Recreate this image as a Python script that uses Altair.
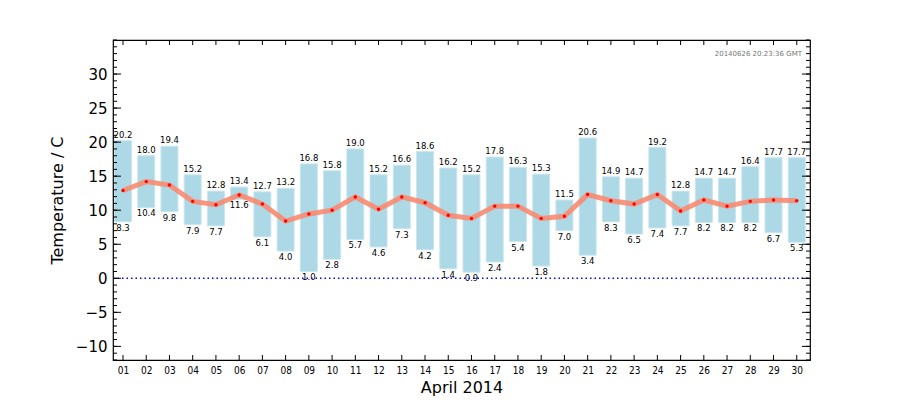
import altair as alt
import pandas as pd

days = list(range(1, 31))
highs = [20.2, 18.0, 19.4, 15.2, 12.8, 13.4, 12.7, 13.2, 16.8, 15.8,
         19.0, 15.2, 16.6, 18.6, 16.2, 15.2, 17.8, 16.3, 15.3, 11.5,
         20.6, 14.9, 14.7, 19.2, 12.8, 14.7, 14.7, 16.4, 17.7, 17.7]
lows = [8.3, 10.4, 9.8, 7.9, 7.7, 11.6, 6.1, 4.0, 1.0, 2.8,
        5.7, 4.6, 7.3, 4.2, 1.4, 0.9, 2.4, 5.4, 1.8, 7.0,
        3.4, 8.3, 6.5, 7.4, 7.7, 8.2, 8.2, 8.2, 6.7, 5.3]
means = [12.9, 14.2, 13.7, 11.3, 10.8, 12.25, 10.9, 8.4, 9.45, 10.0,
         11.95, 10.15, 11.95, 11.1, 9.25, 8.8, 10.6, 10.6, 8.8, 9.1,
         12.3, 11.4, 10.9, 12.3, 9.9, 11.5, 10.6, 11.3, 11.5, 11.4]
y_major = [-10, -5, 0, 5, 10, 15, 20, 25, 30]
y_minor = list(range(-12, 36))
stamp = "20140626 20:23:36 GMT"

W, H = 697, 320
df = pd.DataFrame({"day": days, "high": highs, "low": lows, "mean": means})

xs = alt.Scale(domain=[0.57, 30.57], nice=False, zero=False, padding=0)
ys = alt.Scale(domain=[-12, 35], nice=False, zero=False, padding=0)

xaxis = alt.Axis(values=days, labelExpr="datum.value < 10 ? '0' + datum.value : '' + datum.value",
                 title="April 2014", grid=False, domain=False, ticks=False, tickSize=0,
                 labelOverlap=False, labelFlush=False,
                 labelFont="DejaVu Sans Condensed, DejaVu Sans", labelFontSize=10, labelPadding=5,
                 titleFont="DejaVu Sans", titleFontSize=16, titleFontWeight="normal",
                 titlePadding=4, labelColor="black", titleColor="black")
yaxis = alt.Axis(values=y_major, title="Temperature / C", grid=False, domain=False,
                 ticks=False, tickSize=0, labelFont="DejaVu Sans", labelFontSize=15,
                 labelPadding=6, labelFlush=False, labelOverlap=False,
                 titleFont="DejaVu Sans", titleFontSize=16,
                 titleFontWeight="normal", titlePadding=10, labelColor="black",
                 titleColor="black")


def X(f):
    return alt.X(f, scale=xs, axis=xaxis, title="April 2014")


def Y(f):
    return alt.Y(f, scale=ys, axis=yaxis, title="Temperature / C")


base = alt.Chart(df)

bars = base.mark_bar(size=17, color="#add8e6", stroke="#c8e6ef", strokeWidth=1).encode(
    x=X("day:Q"), y=Y("low:Q"), y2="high:Q")
hi_txt = base.mark_text(baseline="bottom", dy=-1, fontSize=8.5, font="DejaVu Sans",
                        color="black").encode(
    x=X("day:Q"), y=Y("high:Q"), text=alt.Text("high:Q", format=".1f"))
lo_txt = base.mark_text(baseline="top", dy=2, fontSize=8.5, font="DejaVu Sans",
                        color="black").encode(
    x=X("day:Q"), y=Y("low:Q"), text=alt.Text("low:Q", format=".1f"))
line = base.mark_line(color="#fa8a70", strokeWidth=5, opacity=0.9).encode(
    x=X("day:Q"), y=Y("mean:Q"))
dots = base.mark_circle(color="red", size=12, opacity=1).encode(
    x=X("day:Q"), y=Y("mean:Q"))

zero = alt.Chart(pd.DataFrame({"v": [0]})).mark_rule(
    color="blue", strokeDash=[1.5, 3], strokeWidth=1.4).encode(
    y=Y("v:Q"), x=alt.value(0), x2=alt.value(W))

maj = pd.DataFrame({"v": y_major})
mnr = pd.DataFrame({"v": y_minor})
xt = pd.DataFrame({"v": days})
tick_layers = [
    alt.Chart(maj).mark_rule(color="black").encode(y=Y("v:Q"), x=alt.value(0), x2=alt.value(8)),
    alt.Chart(maj).mark_rule(color="black").encode(y=Y("v:Q"), x=alt.value(W - 8), x2=alt.value(W)),
    alt.Chart(mnr).mark_rule(color="black").encode(y=Y("v:Q"), x=alt.value(0), x2=alt.value(4)),
    alt.Chart(mnr).mark_rule(color="black").encode(y=Y("v:Q"), x=alt.value(W - 4), x2=alt.value(W)),
    alt.Chart(xt).mark_rule(color="black").encode(x=X("v:Q"), y=alt.value(H - 5), y2=alt.value(H)),
    alt.Chart(xt).mark_rule(color="black").encode(x=X("v:Q"), y=alt.value(0), y2=alt.value(5)),
]

stamp_txt = alt.Chart(pd.DataFrame({"t": [stamp]})).mark_text(
    align="right", baseline="middle", fontSize=7, font="DejaVu Sans", color="#777777").encode(
    text="t:N", x=alt.value(W - 8), y=alt.value(14))

chart = alt.layer(bars, line, dots, hi_txt, lo_txt, zero, *tick_layers, stamp_txt).properties(
    width=W, height=H,
    autosize=alt.AutoSizeParams(type="none"),
    padding={"left": 113, "top": 40, "right": 90, "bottom": 40},
    background="white",
).configure_view(stroke="black", strokeWidth=1.2)

chart.save("out.html", embed_options={"renderer": "svg", "actions": False})
